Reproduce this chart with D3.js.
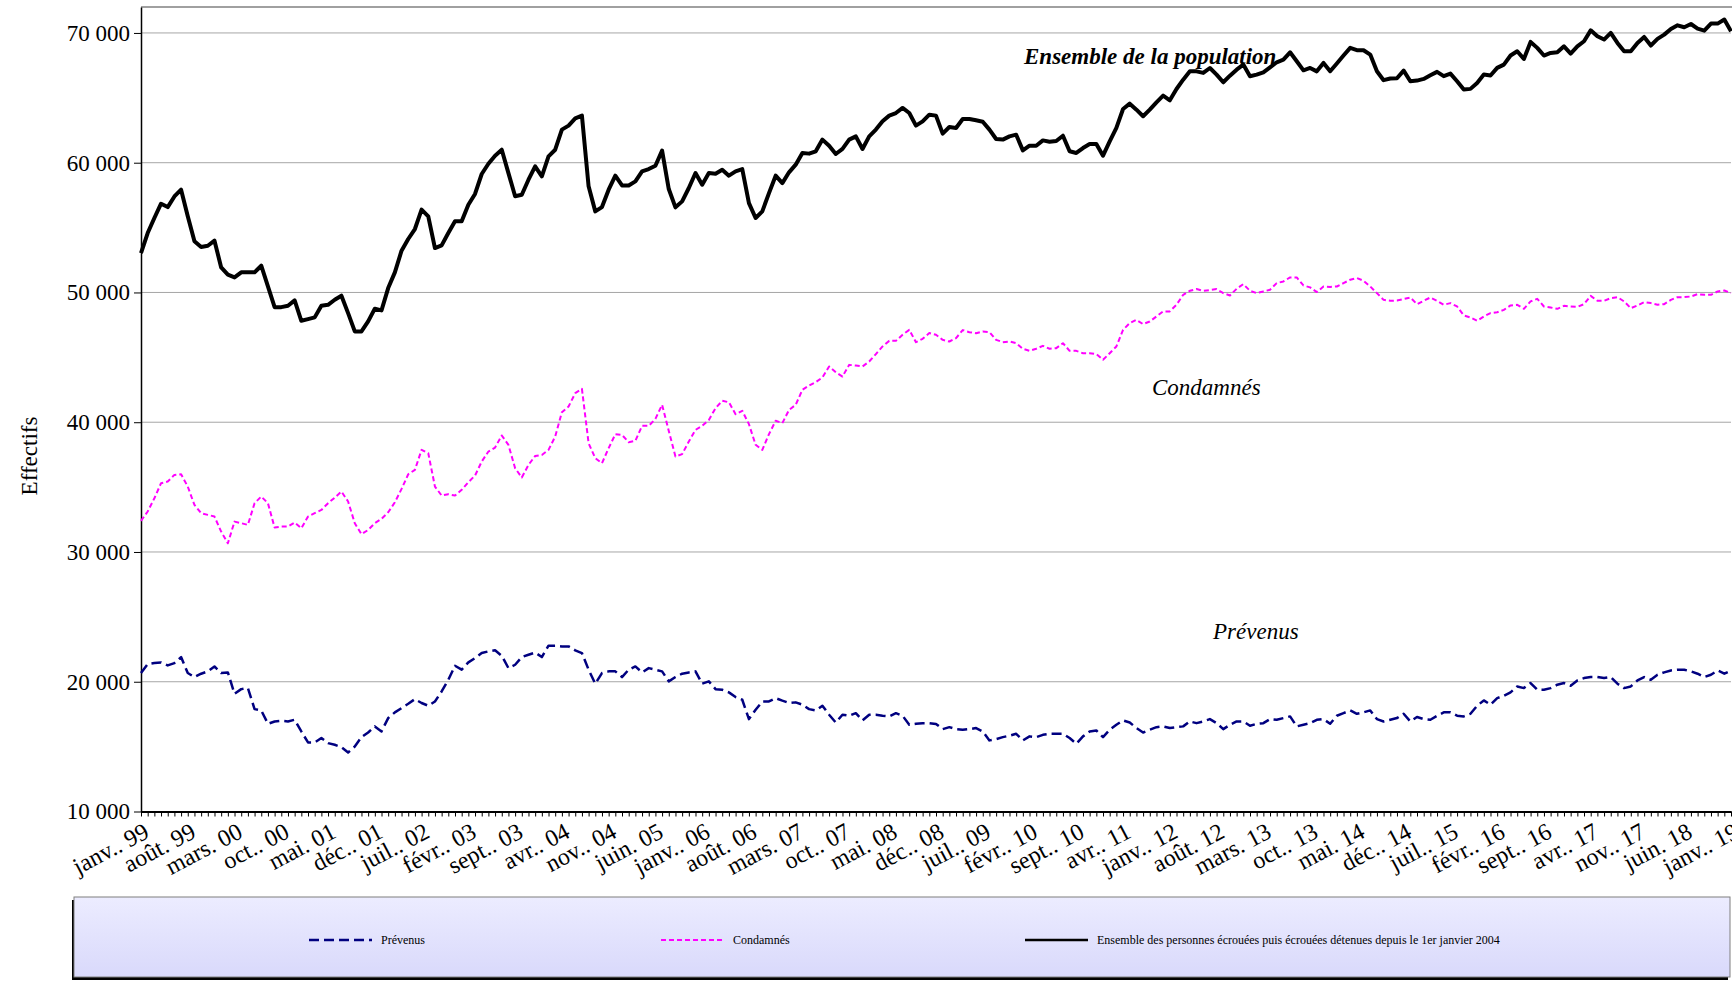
<!DOCTYPE html>
<html>
<head>
<meta charset="utf-8">
<script src="https://cdn.jsdelivr.net/npm/d3@7"></script>
<style>
  body { margin: 0; background: #fff; }
  svg { display: block; font-family: "Liberation Serif", "Times New Roman", serif; }
</style>
</head>
<body>
<script>
// months used in the category labels (Excel "mmm. aa" style)
const monthNames = ["janv.", "févr.", "mars", "avr.", "mai", "juin", "juil.", "août", "sept.", "oct.", "nov.", "déc."];
const firstYear = 1999, lastYear = 2019;
// two months of 2011 are absent from the series
const missingMonths = ["mai. 11", "juin. 11"];

const categories = [];
for (let yr = firstYear; yr <= lastYear; yr++) {
  for (let m = 0; m < 12; m++) {
    if (yr === lastYear && m > 0) break;
    const lab = monthNames[m] + ". " + String(yr).slice(2);
    if (missingMonths.indexOf(lab) < 0) categories.push(lab);
  }
}

const prevenus = [
  20670,21360,21440,21490,21260,21440,21900,20670,20360,20620,20800,21180,20670,20720,19070,19430,19510,17890,17790,16760,
  16940,16990,16940,17070,16170,15320,15320,15660,15270,15140,14960,14550,15010,15730,16090,16560,16170,17200,17640,17970,
  18300,18660,18360,18150,18480,19250,20150,21230,20930,21490,21820,22210,22340,22420,22000,21050,21310,21900,22080,22250,
  21900,22780,22780,22720,22720,22420,22210,20930,19850,20670,20800,20800,20360,20930,21180,20720,21050,20930,20800,20030,
  20360,20620,20720,20800,19850,20030,19430,19380,19180,18820,18610,17120,17840,18480,18480,18740,18540,18360,18410,18230,
  17890,17790,18150,17460,16860,17460,17380,17580,17020,17460,17460,17380,17330,17580,17380,16680,16760,16810,16810,16750,
  16350,16500,16350,16300,16350,16430,16170,15480,15580,15730,15840,15990,15480,15790,15730,15910,15990,15990,15990,15660,
  15220,15790,16170,16250,15730,16300,16680,17020,16860,16430,16090,16300,16500,16560,16430,16500,16560,16940,16810,16940,
  17120,16810,16350,16680,16940,16940,16610,16760,16810,17120,17070,17200,17330,16560,16680,16810,17070,17120,16760,17380,
  17580,17790,17530,17640,17790,17120,16940,17070,17200,17530,16940,17280,17120,17070,17380,17640,17640,17380,17330,17530,
  18150,18560,18230,18740,18920,19180,19640,19510,19900,19380,19380,19510,19770,19900,19690,20100,20280,20360,20360,20280,
  20360,19850,19510,19640,20100,20360,20150,20540,20720,20870,20930,20930,20800,20620,20360,20540,20870,20620,20870
];

const condamnes = [
  32400,33120,34140,35300,35430,35940,35990,35040,33630,32990,32860,32730,31570,30670,32340,32220,32090,33760,34270,33760,
  31880,31960,31960,32270,31830,32730,32990,33240,33760,34190,34660,33890,32220,31370,31700,32220,32550,33060,33830,34860,
  35990,36330,37870,37610,35040,34350,34450,34350,34790,35380,35890,36970,37740,38050,38980,38250,36460,35740,36710,37400,
  37480,37870,38900,40770,41210,42240,42570,38380,37230,36840,38000,39080,39020,38460,38560,39720,39720,40260,41340,39330,
  37360,37540,38510,39410,39720,40180,41080,41650,41540,40620,40880,39850,38260,37870,39080,40110,39930,40950,41340,42500,
  42830,43090,43450,44300,43860,43520,44420,44370,44300,44680,45250,45840,46270,46270,46740,47120,46170,46430,46870,46740,
  46350,46220,46480,47100,46940,46860,46990,46940,46350,46170,46220,46090,45660,45500,45660,45890,45660,45710,46090,45500,
  45500,45320,45320,45250,44810,45320,45840,47120,47640,47890,47560,47760,48150,48540,48540,49050,49820,50130,50260,50130,
  50180,50260,49950,49770,50280,50640,50130,49950,50080,50210,50720,50850,51160,51160,50540,50390,50030,50460,50430,50460,
  50720,50980,51110,50900,50460,49950,49430,49360,49380,49490,49610,49100,49360,49610,49360,49050,49180,48920,48230,48070,
  47820,48150,48410,48480,48660,49000,49050,48740,49310,49510,48920,48840,48740,48970,48920,48890,49100,49740,49360,49360,
  49560,49640,49310,48790,49000,49250,49180,49050,49100,49430,49640,49640,49690,49870,49820,49820,50080,50150,49950
];

const ensemble = [
  53040,54580,55740,56840,56580,57400,57920,55870,53940,53500,53600,53990,51930,51370,51160,51550,51550,51550,52060,50470,
  48870,48870,48980,49390,47820,47950,48080,48980,49050,49440,49750,48410,47000,47000,47770,48750,48620,50340,51550,53220,
  54120,54890,56380,55870,53420,53630,54580,55480,55480,56760,57590,59130,59920,60540,61000,59200,57410,57530,58690,59720,
  58950,60490,61000,62550,62860,63420,63630,58180,56250,56580,57920,59000,58250,58250,58560,59330,59510,59770,60930,57970,
  56560,57020,58050,59210,58310,59210,59150,59460,59000,59330,59510,56890,55740,56250,57660,59000,58430,59260,59850,60750,
  60700,60880,61780,61310,60670,61060,61780,62030,61060,62030,62550,63190,63630,63830,64220,63830,62860,63190,63700,63630,
  62240,62750,62680,63370,63370,63270,63160,62550,61830,61780,62030,62160,60950,61310,61310,61720,61620,61670,62080,60880,
  60750,61130,61440,61440,60540,61650,62680,64140,64550,64090,63580,64090,64650,65170,64810,65680,66400,67040,67040,66920,
  67300,66790,66200,66710,67170,67560,66660,66790,66970,67350,67740,67940,68510,67820,67120,67300,67040,67690,67050,67650,
  68260,68850,68670,68670,68330,67050,66360,66490,66510,67100,66280,66330,66460,66740,67000,66670,66870,66280,65640,65690,
  66150,66790,66720,67310,67560,68260,68590,68000,69310,68850,68260,68460,68510,68970,68410,68970,69360,70200,69740,69490,
  70000,69230,68590,68590,69230,69690,69030,69540,69870,70310,70590,70440,70690,70330,70180,70720,70720,71030,70130
];

const yTicks = [10000, 20000, 30000, 40000, 50000, 60000, 70000];
const labelEvery = 7;

const seriesInfo = [
  { name: "Prévenus", values: prevenus, color: "#000080", width: 2.5, dash: "10,5" },
  { name: "Condamnés", values: condamnes, color: "#ff00ff", width: 2, dash: "5,3" },
  { name: "Ensemble des personnes écrouées puis écrouées détenues depuis le 1er janvier 2004", values: ensemble, color: "#000000", width: 4, dash: null }
];

const W = 1732, H = 984;
const svg = d3.select("body").append("svg").attr("width", W).attr("height", H);

const pLeft = 141, pRight = 1731, pTop = 7, pBottom = 811.5;

const x = d3.scalePoint().domain(categories).range([pLeft, pRight]);
const y = d3.scaleLinear().domain([10000, 72000]).range([pBottom, pTop]);

const fmt = d => d3.format(",")(d).replace(/,/g, " ");

// grid
svg.append("g")
  .selectAll("line")
  .data(yTicks)
  .enter()
  .append("line")
  .attr("x1", pLeft).attr("x2", pRight)
  .attr("y1", d => y(d)).attr("y2", d => y(d))
  .attr("stroke", "#a6a6a6").attr("stroke-width", 1);

// plot top border
svg.append("line")
  .attr("x1", pLeft).attr("x2", W)
  .attr("y1", pTop).attr("y2", pTop)
  .attr("stroke", "#808080").attr("stroke-width", 1.5);

// y axis
let yAxis = svg.append("g")
  .attr("transform", "translate(" + pLeft + ",0)")
  .call(d3.axisLeft(y).tickValues(yTicks).tickFormat(fmt).tickSize(7).tickSizeOuter(0));
yAxis.select(".domain").attr("stroke", "#000").attr("stroke-width", 1.5);
yAxis.selectAll("line").attr("stroke", "#000");
yAxis.selectAll("text")
  .attr("font-family", "Liberation Serif, Times New Roman, serif")
  .attr("font-size", 23).attr("fill", "#000").attr("x", -11);

// x axis, a tick for every month, a label every 7th
let xAxis = svg.append("g")
  .attr("transform", "translate(0," + pBottom + ")")
  .call(d3.axisBottom(x).tickSize(5).tickSizeOuter(0)
    .tickFormat((d, i) => i % labelEvery === 0 ? d : ""));
xAxis.select(".domain").attr("stroke", "#000").attr("stroke-width", 2);
xAxis.selectAll("line").attr("stroke", "#000");
xAxis.selectAll("text")
  .attr("font-family", "Liberation Serif, Times New Roman, serif")
  .attr("font-size", 24).attr("fill", "#000")
  .attr("text-anchor", "end")
  .attr("dy", null).attr("y", 0)
  .attr("transform", "translate(9,25) rotate(-28)");

// y title
svg.append("text")
  .attr("transform", "translate(37,456) rotate(-90)")
  .attr("text-anchor", "middle")
  .attr("font-size", 23)
  .text("Effectifs");

// lines
let line = d3.line().x((d, i) => x(categories[i])).y(d => y(d));

svg.append("g")
  .attr("fill", "none")
  .selectAll("path")
  .data(seriesInfo)
  .enter()
  .append("path")
  .attr("d", d => line(d.values))
  .attr("stroke", d => d.color)
  .attr("stroke-width", d => d.width)
  .attr("stroke-dasharray", d => d.dash)
  .attr("stroke-linejoin", "round");

// annotations
svg.append("text").attr("x", 1024).attr("y", 64)
  .attr("font-size", 23).attr("font-style", "italic").attr("font-weight", "bold")
  .text("Ensemble de la population");
svg.append("text").attr("x", 1152).attr("y", 395)
  .attr("font-size", 23).attr("font-style", "italic")
  .text("Condamnés");
svg.append("text").attr("x", 1213).attr("y", 639)
  .attr("font-size", 23).attr("font-style", "italic")
  .text("Prévenus");

// legend
let defs = svg.append("defs");
let grad = defs.append("linearGradient").attr("id", "lg").attr("x1", 0).attr("y1", 0).attr("x2", 0).attr("y2", 1);
grad.append("stop").attr("offset", "0%").attr("stop-color", "#ececff");
grad.append("stop").attr("offset", "100%").attr("stop-color", "#d9d9fb");

const lgX = 74, lgY = 897, lgW = 1656, lgH = 80;
svg.append("rect").attr("x", lgX - 2).attr("y", lgY + 3).attr("width", lgW).attr("height", lgH).attr("fill", "#000");
svg.append("rect").attr("x", lgX).attr("y", lgY).attr("width", lgW).attr("height", lgH)
  .attr("fill", "url(#lg)").attr("stroke", "#7f7f7f").attr("stroke-width", 1);

const legendX = [309, 661, 1025];
let item = svg.append("g")
  .selectAll("g")
  .data(seriesInfo)
  .enter()
  .append("g")
  .attr("transform", (d, i) => "translate(" + legendX[i] + ",940)");
item.append("line")
  .attr("x1", 0).attr("x2", 63)
  .attr("stroke", d => d.color)
  .attr("stroke-width", d => Math.min(d.width, 2.5))
  .attr("stroke-dasharray", d => d.dash);
item.append("text")
  .attr("x", 72).attr("y", 4)
  .attr("font-size", 12)
  .text(d => d.name);
</script>
</body>
</html>
